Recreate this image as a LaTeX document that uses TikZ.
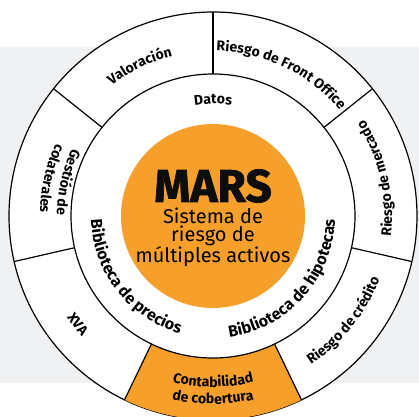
\documentclass[tikz,border=0pt]{standalone}
\usepackage{fontspec}
\setmainfont{Fira Sans}
\newfontfamily\heavyfont{Fira Sans}[FakeBold=1.5]
\usetikzlibrary{decorations.text}
\definecolor{marsorange}{RGB}{246,160,43}
\definecolor{panelgrey}{RGB}{240,241,243}
\newcommand\ringfont{\bfseries\fontsize{14}{16}\selectfont}
\newcommand\innerfont{\bfseries\fontsize{16}{18}\selectfont}
% text on an arc: [font](start:end:radius){text}
\def\ringtext[#1](#2:#3:#4)#5{\path[decorate,decoration={text along path,text align=center,text={|#1|#5}}] (#2:#4pt) arc[start angle=#2,end angle=#3,radius=#4pt];}

\begin{document}
\begin{tikzpicture}[line width=1.2pt]
			%%%%% START %%%%%
			
			\useasboundingbox (-213pt,-200pt) rectangle (206pt,216pt);
			\clip (-213pt,-200pt) rectangle (206pt,216pt);
			
			\fill[panelgrey] (-213pt,-167pt) rectangle (206pt,169pt);
			
			\draw[fill=white] (0,0) circle[radius=204pt];
			\fill[marsorange] (244.3:142pt) arc[start angle=244.3,end angle=295.7,radius=142pt]
				-- (295.7:204pt) arc[start angle=295.7,end angle=244.3,radius=204pt] -- cycle;
			\draw[fill=white] (0,0) circle[radius=142pt];
			\fill[marsorange] (0,0) circle[radius=92pt];
			
			\foreach \a in {38.6,90,141.4,192.9,244.3,295.7,347.1}
				\draw (\a:142pt) -- (\a:204pt);
			
			\node[font=\heavyfont\bfseries\fontsize{46}{46}\selectfont, text=black!95] (mars) at (0pt,30pt) {MARS};
			\node[font=\fontsize{20}{18}\selectfont, align=center, below=-3pt] (marsname) at (mars.south) {Sistema de\\riesgo de\\múltiples activos};
			
			% inner ring
			\ringtext[\ringfont](130:50:112){Datos}
			\ringtext[\innerfont](163:273:122){Biblioteca de precios}
			\ringtext[\innerfont](263:373:122){Biblioteca de hipotecas}
			
			% outer ring
			\ringtext[\ringfont](156:76:165){Valoración}
			\ringtext[\ringfont](104.3:24.3:165){Riesgo de Front Office}
			\ringtext[\ringfont](-27.1:52.9:179){Riesgo de mercado}
			\ringtext[\ringfont](281.4:361.4:178){Riesgo de crédito}
			\ringtext[\ringfont](230:310:171){Contabilidad}
			\ringtext[\ringfont](230:310:188){de cobertura}
			\ringtext[\ringfont](178.6:258.6:178){XVA}
			\ringtext[\ringfont](127:207:156){Gestión de}
			\ringtext[\ringfont](127:207:173){colaterales}
			
			%%%%% END %%%%%
\end{tikzpicture}
\end{document}
